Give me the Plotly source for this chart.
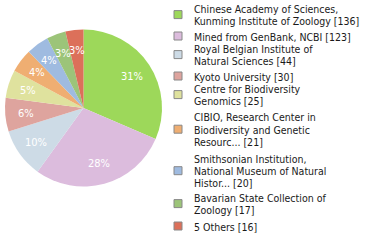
import math
import plotly.graph_objects as go

labels = [
    "Chinese Academy of Sciences,<br>Kunming Institute of Zoology [136]",
    "Mined from GenBank, NCBI [123]",
    "Royal Belgian Institute of<br>Natural Sciences [44]",
    "Kyoto University [30]",
    "Centre for Biodiversity<br>Genomics [25]",
    "CIBIO, Research Center in<br>Biodiversity and Genetic<br>Resourc... [21]",
    "Smithsonian Institution,<br>National Museum of Natural<br>Histor... [20]",
    "Bavarian State Collection of<br>Zoology [17]",
    "5 Others [16]",
]
values = [136, 123, 44, 30, 25, 21, 20, 17, 16]
colors = ["#9dd85a", "#dcbcdd", "#cddbe6", "#dea49e", "#dfe29e",
          "#efae72", "#9fbbe0", "#9cc479", "#dc705a"]

W, H = 380, 240
CX, CY, R = 83.5, 108.0, 78.5   # pie centre / radius in pixels (layout)
FONT = "DejaVu Sans Condensed, DejaVu Sans, sans-serif"

total = sum(values)
texts = [f"{math.floor(v / total * 100)}%" for v in values]

fig = go.Figure(go.Pie(
    labels=[l.replace("<br>", " ") for l in labels],
    values=values,
    textinfo="none",
    marker=dict(colors=colors, line=dict(width=0)),
    sort=False,
    direction="clockwise",
    rotation=0,
    domain=dict(x=[(CX - R) / W, (CX + R) / W], y=[1 - (CY + R) / H, 1 - (CY - R) / H]),
    hoverinfo="label+value",
    showlegend=False,
))

annotations = []
shapes = []

# percentage labels placed at mid-angle of each slice
cum = 0
for v, t in zip(values, texts):
    mid = (cum + v / 2) / total * 2 * math.pi
    cum += v
    rr = 0.74 * R
    px = CX + rr * math.sin(mid)
    py = CY - rr * math.cos(mid)
    annotations.append(dict(
        x=px / W, y=1 - py / H, xref="paper", yref="paper",
        text=t, showarrow=False, xanchor="center", yanchor="middle",
        font=dict(family=FONT, size=11, color="white"),
    ))

# legend (layout): first line centre y of each entry, in pixels
first_line_y = [9, 36.5, 49, 76.5, 89, 117.5, 159, 198, 226.5]
LINE = 12.2
for lab, col, y0 in zip(labels, colors, first_line_y):
    lines = lab.split("<br>")
    for i, ln in enumerate(lines):
        yy = y0 + i * LINE
        annotations.append(dict(
            x=192 / W, y=1 - yy / H, xref="paper", yref="paper",
            text=ln, showarrow=False, xanchor="left", yanchor="middle",
            font=dict(family=FONT, size=10.5, color="#1a1a1a"),
        ))
    sy = y0 + (len(lines) - 1) * LINE / 2 - 0.5
    shapes.append(dict(
        type="rect", xref="paper", yref="paper",
        x0=174 / W, x1=182 / W, y0=1 - (sy - 4) / H, y1=1 - (sy + 4) / H,
        fillcolor=col, line=dict(color="#888888", width=1),
    ))

fig.update_layout(
    width=W, height=H,
    margin=dict(l=0, r=0, t=0, b=0),
    paper_bgcolor="white",
    showlegend=False,
    annotations=annotations,
    shapes=shapes,
)

fig.write_html("out.html")
